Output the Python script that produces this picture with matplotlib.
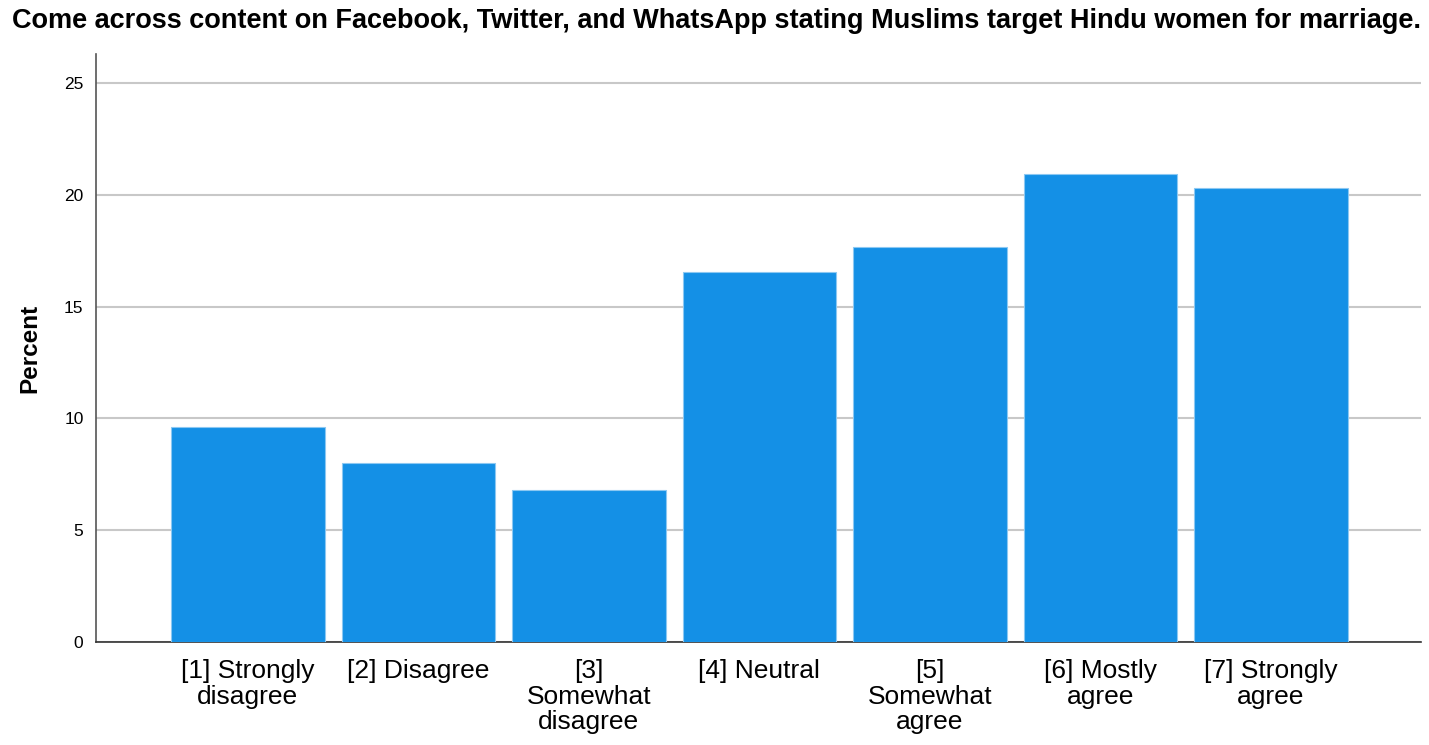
import matplotlib
matplotlib.use("Agg")
import matplotlib.pyplot as plt

categories = ["[1] Strongly\ndisagree", "[2] Disagree", "[3]\nSomewhat\ndisagree",
              "[4] Neutral", "[5]\nSomewhat\nagree", "[6] Mostly\nagree", "[7] Strongly\nagree"]
percent = [9.62, 8.0, 6.8, 16.55, 17.67, 20.93, 20.3]
yticks = [0, 5, 10, 15, 20, 25]
title = "Come across content on Facebook, Twitter, and WhatsApp stating Muslims target Hindu women for marriage."

plt.rcParams['font.family'] = ['Liberation Sans', 'DejaVu Sans']

fig = plt.figure(figsize=(14.29, 7.45), dpi=100)
ax = fig.add_axes([96/1429, 1-642/745, (1421-96)/1429, (642-54)/745])

x = list(range(len(categories)))
ax.bar(x, percent, width=0.9, color="#1490E6", edgecolor="#8CC8F2", linewidth=0.8, zorder=3)

ax.set_xlim(-0.89, 6.88)
ax.set_ylim(0, 26.3)
ax.set_yticks(yticks)
ax.set_yticklabels([str(t) for t in yticks], fontsize=12.5)
ax.set_xticks(x)
ax.set_xticklabels(categories, fontsize=19, linespacing=1.1)
ax.tick_params(axis='x', length=0, pad=12)
ax.tick_params(axis='y', length=0, pad=9)
ax.yaxis.grid(True, color="#C8C8C8", linewidth=1.5, zorder=0)
ax.set_axisbelow(True)
for s in ["top", "right"]:
    ax.spines[s].set_visible(False)
ax.spines["left"].set_color("#555555")
ax.spines["bottom"].set_color("#333333")
ax.spines["left"].set_linewidth(1.2)
ax.spines["bottom"].set_linewidth(1.2)

ax.set_ylabel("Percent", fontsize=17.5, fontweight="bold", labelpad=16)
fig.text(716/1429, 1-21/745, title, ha="center", va="center", fontsize=19.5, fontweight="bold")

fig.savefig("out.png", dpi=100)
